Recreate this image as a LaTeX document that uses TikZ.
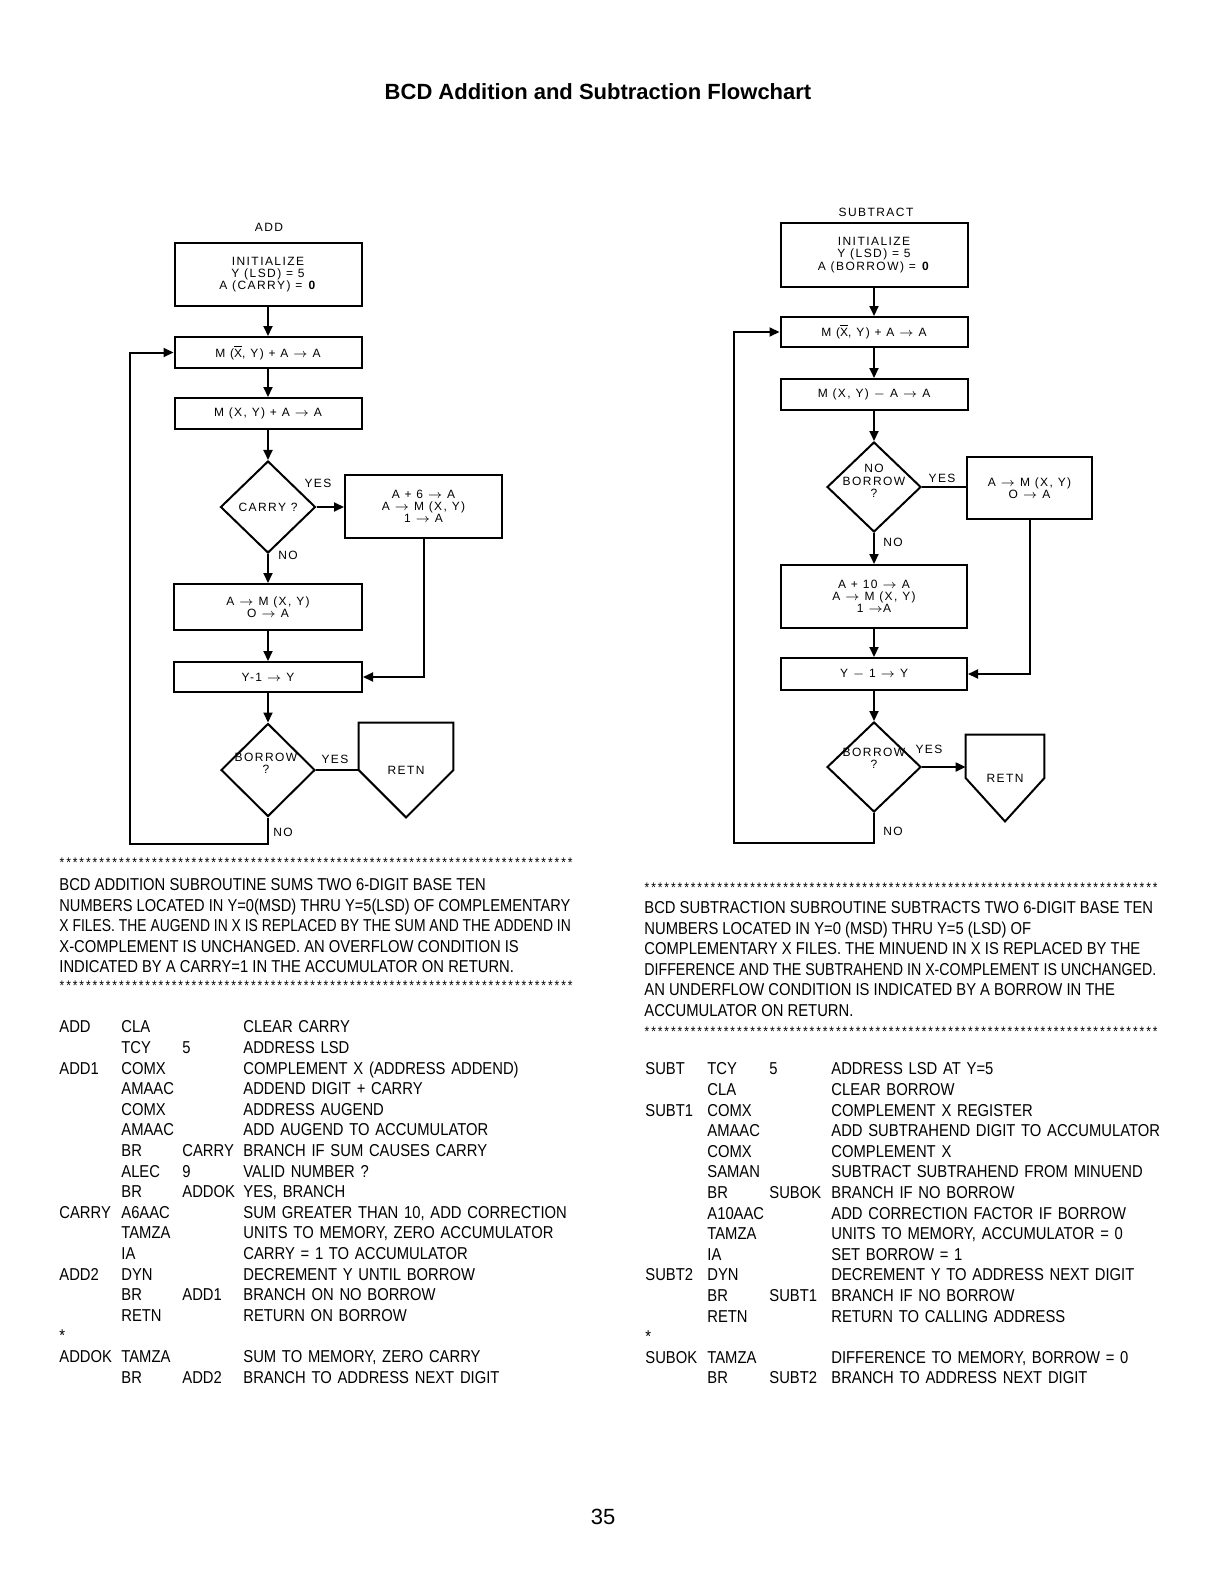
\documentclass[tikz,border=0pt]{standalone}
\usepackage{fontspec}
\setmainfont{Liberation Sans}
\newfontfamily\flowfont[LetterSpace=12]{Liberation Sans}
\newfontfamily\condfont[FakeStretch=0.86]{Liberation Sans}
\usepackage{tikz}
\usetikzlibrary{shapes.geometric,arrows.meta,positioning,matrix}
\tikzset{
    flowbox/.style={rectangle, draw, line width=1pt, align=center, inner sep=0pt, font=\flowfont\fontsize{6}{6.1}\selectfont},
    decision/.style={diamond, draw, line width=1pt, inner sep=0pt},
    flowlabel/.style={inner sep=0pt, align=center, font=\flowfont\fontsize{6}{6.1}\selectfont},
    flow/.style={line width=1pt},
    flowarrow/.style={line width=1pt, -{Triangle[length=5pt,width=4.5pt]}},
    starmark/.style={inner sep=0pt, font=\condfont\fontsize{7}{7}\selectfont},
    desctext/.style={inner sep=0pt, anchor=north west, align=left, font=\condfont\fontsize{8.6}{10.3}\selectfont},
    listing/.style={matrix of nodes, inner sep=0pt, row sep=0pt, column sep=0pt, anchor=north west,
        nodes={inner sep=0pt, align=left, text height=6.2pt, text depth=4.1pt, font=\condfont\fontsize{8.6}{10.3}\selectfont},
        column 1/.style={nodes={text width=31pt}},
        column 2/.style={nodes={text width=30.5pt}},
        column 3/.style={nodes={text width=30.5pt}},
        column 4/.style={nodes={text width=180pt}}},
}
\newcommand{\xbar}{\mbox{$\overline{\mbox{X}}$}}
\newcommand{\tto}{$\rightarrow$}

\begin{document}
\begin{tikzpicture}[x=0.5pt, y=-0.5pt]
    \fill[white] (0,0) rectangle (1224,1584);
    \useasboundingbox (0,0) rectangle (1224,1584);

    % title
    \node[font=\bfseries\fontsize{11}{13}\selectfont] (title) at (598,92) {BCD Addition and Subtraction Flowchart};

    % addition flowchart
    \node[flowlabel] (addname) at (269,227) {ADD};
    \node[flowbox, minimum width=93.5pt, minimum height=31.5pt] (initA) at (268,274.5) {INITIALIZE\\Y (LSD) = 5\\A (CARRY) = \textbf{0}};
    \node[flowbox, minimum width=93.5pt, minimum height=15.5pt] (compA) at (268,352.5) {M (\xbar, Y) + A \tto\ A};
    \node[flowbox, minimum width=93.5pt, minimum height=15.5pt] (sumA) at (268,413.5) {M (X, Y) + A \tto\ A};
    \node[decision, minimum width=47.5pt, minimum height=46pt] (carryA) at (268,507) {};
    \node[flowlabel] (carryAtext) at (carryA) {CARRY ?};
    \node[flowbox, minimum width=78.5pt, minimum height=31.5pt] (fixA) at (423.5,506.5) {A + 6 \tto\ A\\A \tto\ M (X, Y)\\1 \tto\ A};
    \node[flowbox, minimum width=94pt, minimum height=23pt] (storeA) at (268,607) {A \tto\ M (X, Y)\\O \tto\ A};
    \node[flowbox, minimum width=94pt, minimum height=15pt] (decA) at (268,677) {Y-1 \tto\ Y};
    \node[decision, minimum width=47pt, minimum height=46.5pt] (borrowA) at (268,770) {};
    \node[flowlabel] (borrowAtext) at (266,763) {BORROW\\?};
    \node[flowlabel, minimum width=47pt, minimum height=47pt] (retnA) at (406,770) {RETN};
    \draw[flow] (retnA.north west) -- (retnA.north east) -- (retnA.east) -- (retnA.south) -- (retnA.west) -- cycle;
    \coordinate (loopA) at (130,844);

    \draw[flowarrow] (initA) -- (compA);
    \draw[flowarrow] (compA) -- (sumA);
    \draw[flowarrow] (sumA) -- (carryA);
    \draw[flowarrow] (carryA.east) -- (carryA.east -| fixA.west);
    \draw[flowarrow] (carryA) -- (storeA);
    \draw[flowarrow] (storeA) -- (decA);
    \draw[flowarrow] (fixA.south) |- (decA.east);
    \draw[flowarrow] (decA) -- (borrowA);
    \draw[flow] (borrowA.east) -- (retnA.west);
    \draw[flowarrow] (borrowA.south) |- (loopA) |- (compA.west);
    \node[flowlabel] (yesA1) at (318,483) {YES};
    \node[flowlabel] (noA1) at (288,555) {NO};
    \node[flowlabel] (yesA2) at (335,759) {YES};
    \node[flowlabel] (noA2) at (283,832) {NO};

    % subtraction flowchart
    \node[flowlabel] (subname) at (876,212) {SUBTRACT};
    \node[flowbox, minimum width=93.5pt, minimum height=32pt] (initS) at (874,255) {INITIALIZE\\Y (LSD) = 5\\A (BORROW) = \textbf{0}};
    \node[flowbox, minimum width=93.5pt, minimum height=15pt] (compS) at (874,332) {M (\xbar, Y) + A \tto\ A};
    \node[flowbox, minimum width=93.5pt, minimum height=15.5pt] (diffS) at (874,394.5) {M (X, Y) $-$ A \tto\ A};
    \node[decision, minimum width=47pt, minimum height=45pt] (noborS) at (874,487) {};
    \node[flowlabel] (noborStext) at (874,481) {NO\\BORROW\\?};
    \node[flowbox, minimum width=62.5pt, minimum height=31pt] (keepS) at (1029.5,488) {A \tto\ M (X, Y)\\O \tto\ A};
    \node[flowbox, minimum width=93pt, minimum height=31.5pt] (fixS) at (874,596.5) {A + 10 \tto\ A\\A \tto\ M (X, Y)\\1 \tto A};
    \node[flowbox, minimum width=93pt, minimum height=16pt] (decS) at (874,674) {Y $-$ 1 \tto\ Y};
    \node[decision, minimum width=47pt, minimum height=45pt] (borrowS) at (874,767) {};
    \node[flowlabel] (borrowStext) at (874,758) {BORROW\\?};
    \node[flowlabel, minimum width=39pt, minimum height=43pt] (retnS) at (1005,778) {RETN};
    \draw[flow] (retnS.north west) -- (retnS.north east) -- (retnS.east) -- (retnS.south) -- (retnS.west) -- cycle;
    \coordinate (loopS) at (734,843);

    \draw[flowarrow] (initS) -- (compS);
    \draw[flowarrow] (compS) -- (diffS);
    \draw[flowarrow] (diffS) -- (noborS);
    \draw[flow] (noborS.east) -- (noborS.east -| keepS.west);
    \draw[flowarrow] (noborS) -- (fixS);
    \draw[flowarrow] (fixS) -- (decS);
    \draw[flowarrow] (keepS.south) |- (decS.east);
    \draw[flowarrow] (decS) -- (borrowS);
    \draw[flowarrow] (borrowS.east) -- (borrowS.east -| retnS.west);
    \draw[flowarrow] (borrowS.south) |- (loopS) |- (compS.west);
    \node[flowlabel] (yesS1) at (942,478) {YES};
    \node[flowlabel] (noS1) at (893,542) {NO};
    \node[flowlabel] (yesS2) at (929,749) {YES};
    \node[flowlabel] (noS2) at (893,831) {NO};

    % star rules
    \foreach \i in {0,...,77} {
        \node[starmark] (starA\i) at (62+\i*6.6,863) {*};
        \node[starmark] (starB\i) at (62+\i*6.6,986) {*};
        \node[starmark] (starC\i) at (647+\i*6.6,888) {*};
        \node[starmark] (starD\i) at (647+\i*6.6,1032) {*};
    }

    % descriptions
    \node[desctext] (descA) at (59,878) {BCD ADDITION SUBROUTINE SUMS TWO 6-DIGIT BASE TEN\\
        \scalebox{0.99}[1]{NUMBERS LOCATED IN Y=0(MSD) THRU Y=5(LSD) OF COMPLEMENTARY}\\
        \scalebox{0.94}[1]{X FILES. THE AUGEND IN X IS REPLACED BY THE SUM AND THE ADDEND IN}\\
        X-COMPLEMENT IS UNCHANGED. AN OVERFLOW CONDITION IS\\
        INDICATED BY A CARRY=1 IN THE ACCUMULATOR ON RETURN.};
    \node[desctext] (descS) at (644,901) {BCD SUBTRACTION SUBROUTINE SUBTRACTS TWO 6-DIGIT BASE TEN\\
        NUMBERS LOCATED IN Y=0 (MSD) THRU Y=5 (LSD) OF\\
        COMPLEMENTARY X FILES. THE MINUEND IN X IS REPLACED BY THE\\
        \scalebox{0.96}[1]{DIFFERENCE AND THE SUBTRAHEND IN X-COMPLEMENT IS UNCHANGED.}\\
        AN UNDERFLOW CONDITION IS INDICATED BY A BORROW IN THE\\
        ACCUMULATOR ON RETURN.};

    % program listings
    \matrix[listing] (listA) at (59,1020) {
        ADD & CLA & & CLEAR CARRY \\
        & TCY & 5 & ADDRESS LSD \\
        ADD1 & COMX & & COMPLEMENT X (ADDRESS ADDEND) \\
        & AMAAC & & ADDEND DIGIT + CARRY \\
        & COMX & & ADDRESS AUGEND \\
        & AMAAC & & ADD AUGEND TO ACCUMULATOR \\
        & BR & CARRY & BRANCH IF SUM CAUSES CARRY \\
        & ALEC & 9 & VALID NUMBER ? \\
        & BR & ADDOK & YES, BRANCH \\
        CARRY & A6AAC & & SUM GREATER THAN 10, ADD CORRECTION \\
        & TAMZA & & UNITS TO MEMORY, ZERO ACCUMULATOR \\
        & IA & & CARRY = 1 TO ACCUMULATOR \\
        ADD2 & DYN & & DECREMENT Y UNTIL BORROW \\
        & BR & ADD1 & BRANCH ON NO BORROW \\
        & RETN & & RETURN ON BORROW \\
        * & & & \\
        ADDOK & TAMZA & & SUM TO MEMORY, ZERO CARRY \\
        & BR & ADD2 & BRANCH TO ADDRESS NEXT DIGIT \\
    };
    \matrix[listing, column 2/.style={nodes={text width=31pt}}, column 3/.style={nodes={text width=31pt}}] (listS) at (645,1062) {
        SUBT & TCY & 5 & ADDRESS LSD AT Y=5 \\
        & CLA & & CLEAR BORROW \\
        SUBT1 & COMX & & COMPLEMENT X REGISTER \\
        & AMAAC & & ADD SUBTRAHEND DIGIT TO ACCUMULATOR \\
        & COMX & & COMPLEMENT X \\
        & SAMAN & & SUBTRACT SUBTRAHEND FROM MINUEND \\
        & BR & SUBOK & BRANCH IF NO BORROW \\
        & A10AAC & & ADD CORRECTION FACTOR IF BORROW \\
        & TAMZA & & UNITS TO MEMORY, ACCUMULATOR = 0 \\
        & IA & & SET BORROW = 1 \\
        SUBT2 & DYN & & DECREMENT Y TO ADDRESS NEXT DIGIT \\
        & BR & SUBT1 & BRANCH IF NO BORROW \\
        & RETN & & RETURN TO CALLING ADDRESS \\
        * & & & \\
        SUBOK & TAMZA & & DIFFERENCE TO MEMORY, BORROW = 0 \\
        & BR & SUBT2 & BRANCH TO ADDRESS NEXT DIGIT \\
    };

    % page number
    \node[font=\fontsize{11}{13}\selectfont] (pagenum) at (603,1517) {35};
\end{tikzpicture}
\end{document}
